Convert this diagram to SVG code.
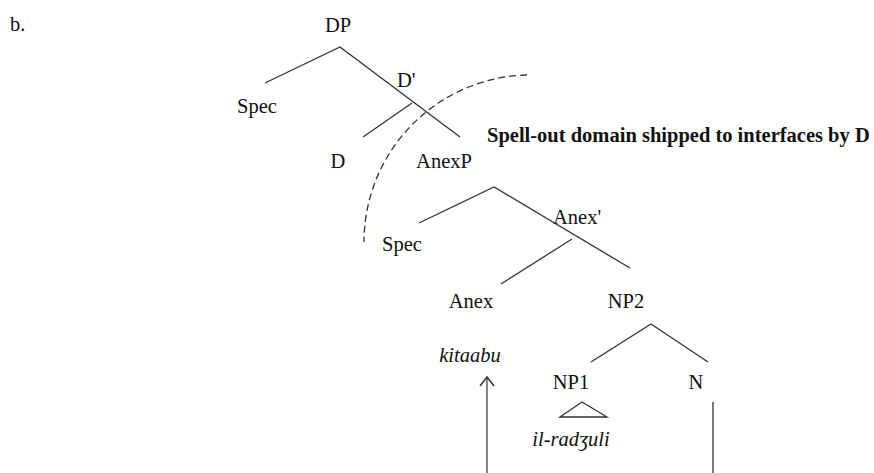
<svg xmlns="http://www.w3.org/2000/svg" width="874" height="473" viewBox="0 0 874 473">
  <style>
    text { font-family: "Liberation Serif", "Times New Roman", serif; font-size: 20.5px; fill: #111; }
    .c { text-anchor: middle; }
    .it { font-style: italic; }
    .b { font-weight: bold; }
    .edge { stroke: #333; stroke-width: 1.3; fill: none; }
    .arrow { stroke: #666; stroke-width: 1.6; fill: none; }
    .head { stroke: #333; stroke-width: 1.5; fill: none; }
    .dash { stroke: #333; stroke-width: 1.3; fill: none; stroke-dasharray: 7 4; }
  </style>
  <rect width="874" height="473" fill="#fff"/>
  <g id="label-b"><text x="10" y="31">b.</text></g>
  <g id="connectors">
    <path class="edge" d="M265 83 L340 47 L460 137"/>
    <path class="edge" d="M412 103 L363 137"/>
    <path class="edge" d="M419 223 L494 187 L630 268"/>
    <path class="edge" d="M572 239 L501 284"/>
    <path class="edge" d="M591 362 L651 324 L708 362"/>
    <path class="edge" d="M560 417 L582 402 L607 417 Z"/>
    <path class="edge" d="M713 402 L713 473"/>
    <path class="arrow" d="M487 473 L487 377"/>
    <path class="head" d="M480 386 L487 377 L494 386"/>
    <path class="dash" d="M527 75 A167 167 0 0 0 364 242"/>
  </g>
  <g id="node-DP"><text class="c" x="338" y="32">DP</text></g>
  <g id="node-Spec1"><text class="c" x="257" y="113">Spec</text></g>
  <g id="node-Dbar"><text x="397" y="87">D'</text></g>
  <g id="node-D"><text class="c" x="338" y="168">D</text></g>
  <g id="node-AnexP"><text class="c" x="444" y="168">AnexP</text></g>
  <g id="note-spellout"><text class="b" x="487" y="142">Spell-out domain shipped to interfaces by D</text></g>
  <g id="node-Spec2"><text class="c" x="402" y="251">Spec</text></g>
  <g id="node-Anexbar"><text x="553" y="224">Anex'</text></g>
  <g id="node-Anex"><text class="c" x="471" y="308">Anex</text></g>
  <g id="node-NP2"><text class="c" x="626" y="308">NP2</text></g>
  <g id="node-kitaabu"><text class="c it" x="470" y="362">kitaabu</text></g>
  <g id="node-NP1"><text class="c" x="571" y="389">NP1</text></g>
  <g id="node-N"><text class="c" x="696" y="389">N</text></g>
  <g id="node-ilradzuli"><text class="c it" x="571" y="446">il-radʒuli</text></g>
</svg>
